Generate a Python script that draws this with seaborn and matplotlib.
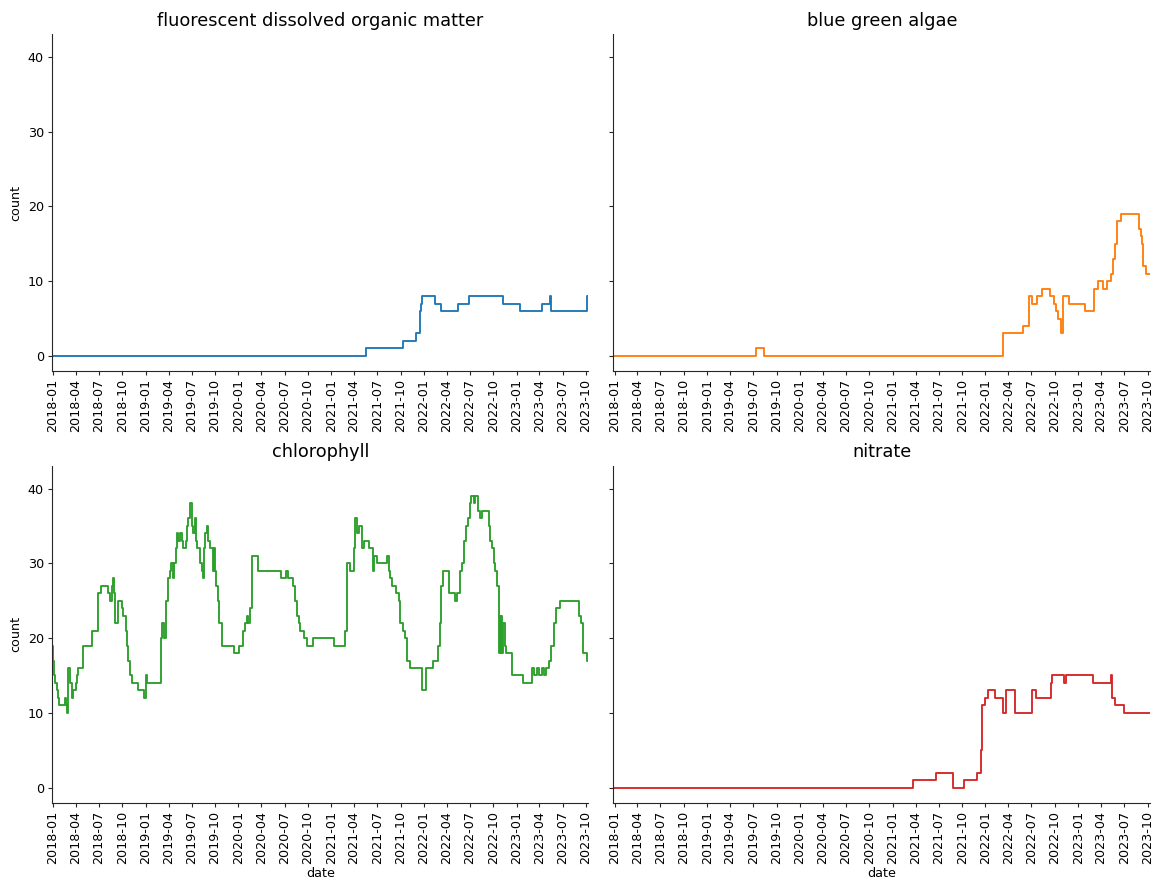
import matplotlib
matplotlib.use("Agg")
import matplotlib.pyplot as plt
import matplotlib.dates as mdates
import numpy as np
import pandas as pd
import seaborn as sns

sns.set_style("ticks")
plt.rcParams["font.family"] = ["DejaVu Sans"]

START = "2017-12-28"
END = "2023-10-11"

# Rolling counts per sensor: dates where the count changes, and the new count
fdom_dates = [START, "2021-05-19", "2021-10-10", "2021-12-02", "2021-12-18",
              "2021-12-22", "2021-12-26", "2022-02-12", "2022-03-09", "2022-05-14",
              "2022-06-29", "2022-11-09", "2023-01-13", "2023-04-11", "2023-05-14",
              "2023-05-18", "2023-10-06"]
fdom_counts = [0, 1, 2, 3, 6, 7, 8, 7, 6, 7, 8, 7, 6, 7, 8, 6, 8]

bga_dates = [START, "2019-07-14", "2019-08-14", "2022-03-11", "2022-05-28",
             "2022-06-20", "2022-07-04", "2022-07-24", "2022-08-12", "2022-09-13",
             "2022-09-26", "2022-10-06", "2022-10-15", "2022-10-26", "2022-11-01",
             "2022-11-25", "2023-01-26", "2023-03-03", "2023-03-22", "2023-04-10",
             "2023-04-24", "2023-05-10", "2023-05-19", "2023-05-27", "2023-06-01",
             "2023-06-18", "2023-08-30", "2023-09-04", "2023-09-08", "2023-09-13",
             "2023-09-24"]
bga_counts = [0, 1, 0, 3, 4, 8, 7, 8, 9, 8, 7, 6, 5, 3, 8, 7, 6, 9, 10, 9,
              10, 11, 13, 15, 18, 19, 17, 16, 15, 12, 11]

chl_dates = [START, "2018-01-02", "2018-01-05", "2018-01-10", "2018-01-17",
             "2018-01-22", "2018-01-26", "2018-02-17", "2018-02-21", "2018-02-24",
             "2018-03-02", "2018-03-09", "2018-03-15", "2018-03-22", "2018-04-02",
             "2018-04-07", "2018-04-11", "2018-05-01", "2018-06-05", "2018-06-29",
             "2018-07-08", "2018-08-07", "2018-08-14", "2018-08-20", "2018-08-24",
             "2018-08-30", "2018-09-03", "2018-09-13", "2018-09-29", "2018-10-05",
             "2018-10-15", "2018-10-21", "2018-10-25", "2018-11-01", "2018-11-07",
             "2018-12-03", "2018-12-27", "2019-01-03", "2019-01-08", "2019-03-01",
             "2019-03-08", "2019-03-15", "2019-03-22", "2019-03-29", "2019-04-05",
             "2019-04-10", "2019-04-18", "2019-04-24", "2019-05-01", "2019-05-04",
             "2019-05-10", "2019-05-17", "2019-05-23", "2019-05-30", "2019-06-09",
             "2019-06-12", "2019-06-18", "2019-06-25", "2019-07-02", "2019-07-08",
             "2019-07-15", "2019-07-19", "2019-07-24", "2019-08-03", "2019-08-10",
             "2019-08-14", "2019-08-19", "2019-08-23", "2019-09-01", "2019-09-05",
             "2019-09-12", "2019-09-22", "2019-09-28", "2019-10-02", "2019-10-06",
             "2019-10-11", "2019-10-15", "2019-10-28", "2019-12-13", "2020-01-02",
             "2020-01-21", "2020-01-28", "2020-02-04", "2020-02-10", "2020-02-17",
             "2020-02-23", "2020-03-20", "2020-06-16", "2020-07-07", "2020-07-13",
             "2020-08-03", "2020-08-12", "2020-08-19", "2020-08-25", "2020-09-01",
             "2020-09-14", "2020-09-27", "2020-10-21", "2021-01-10", "2021-02-25",
             "2021-03-04", "2021-03-14", "2021-03-30", "2021-04-05", "2021-04-12",
             "2021-04-19", "2021-05-02", "2021-05-08", "2021-05-28", "2021-06-16",
             "2021-06-19", "2021-06-30", "2021-08-08", "2021-08-15", "2021-08-21",
             "2021-08-28", "2021-09-14", "2021-09-23", "2021-09-30", "2021-10-10",
             "2021-10-20", "2021-10-26", "2021-11-06", "2021-12-24", "2022-01-10",
             "2022-02-06", "2022-02-24", "2022-03-04", "2022-03-09", "2022-03-17",
             "2022-04-08", "2022-05-05", "2022-05-11", "2022-05-22", "2022-05-31",
             "2022-06-06", "2022-06-17", "2022-06-22", "2022-06-30", "2022-07-05",
             "2022-07-16", "2022-07-22", "2022-07-31", "2022-08-11", "2022-08-18",
             "2022-09-14", "2022-09-19", "2022-09-26", "2022-10-03", "2022-10-09",
             "2022-10-16", "2022-10-22", "2022-10-25", "2022-10-28", "2022-10-30",
             "2022-11-01", "2022-11-03", "2022-11-08", "2022-11-18", "2022-11-22",
             "2022-12-14", "2023-01-26", "2023-03-03", "2023-03-09", "2023-03-22",
             "2023-03-29", "2023-04-11", "2023-04-20", "2023-04-27", "2023-05-07",
             "2023-05-17", "2023-05-27", "2023-06-05", "2023-06-22", "2023-09-03",
             "2023-09-12", "2023-09-20", "2023-10-06"]
chl_counts = [19, 17, 15, 14, 13, 12, 11, 12, 11, 10,
              16, 14, 12, 13, 14, 15, 16, 19, 21, 26,
              27, 26, 25, 27, 28, 26, 22, 25, 24, 23,
              21, 19, 17, 15, 14, 13, 12, 15, 14, 20,
              22, 20, 25, 28, 29, 30, 28, 30, 32, 34,
              33, 34, 33, 32, 33, 35, 36, 38, 35, 34,
              36, 33, 32, 30, 29, 28, 32, 34, 35, 33,
              32, 29, 32, 29, 27, 25, 22, 19, 18, 19,
              21, 22, 23, 22, 24, 31, 29, 28, 29, 28,
              27, 25, 23, 22, 21, 20, 19, 20, 19, 21,
              30, 29, 32, 36, 34, 35, 32, 33, 32, 29,
              31, 30, 31, 29, 28, 27, 26, 25, 22, 21,
              20, 17, 16, 13, 16, 17, 19, 22, 27, 29,
              26, 25, 26, 29, 30, 33, 35, 36, 38, 39,
              38, 39, 37, 36, 37, 35, 33, 32, 30, 29,
              27, 23, 18, 23, 18, 23, 18, 22, 19, 18,
              15, 14, 16, 15, 16, 15, 16, 15, 16, 17,
              19, 22, 24, 25, 23, 22, 18, 17]

nitrate_dates = [START, "2021-03-21", "2021-06-20", "2021-08-25", "2021-10-09",
                 "2021-11-29", "2021-12-14", "2021-12-20", "2021-12-29", "2022-01-11",
                 "2022-02-06", "2022-03-09", "2022-03-22", "2022-04-26", "2022-07-04",
                 "2022-07-20", "2022-09-14", "2022-09-21", "2022-11-08", "2022-11-14",
                 "2023-03-02", "2023-05-10", "2023-05-14", "2023-05-26", "2023-06-30"]
nitrate_counts = [0, 1, 2, 0, 1, 2, 5, 11, 12, 13, 12, 10, 13, 10, 13, 12, 14,
                  15, 14, 15, 14, 15, 12, 11, 10]

panels = ["fluorescent dissolved organic matter", "blue green algae",
          "chlorophyll", "nitrate"]
series = [(fdom_dates, fdom_counts), (bga_dates, bga_counts),
          (chl_dates, chl_counts), (nitrate_dates, nitrate_counts)]
colors = sns.color_palette("tab10", 4)

frames = []
for name, (d, c) in zip(panels, series):
    # carry the last count through to the end of the record
    dd = pd.to_datetime(list(d) + [END])
    cc = list(c) + [c[-1]]
    frames.append(pd.DataFrame({"date": dd, "count": cc, "variable": name}))
data = pd.concat(frames, ignore_index=True)

fig, axes = plt.subplots(2, 2, figsize=(11.52, 8.8), dpi=100, sharey=True)
fig.subplots_adjust(left=0.0451, right=0.9983, top=0.9614, bottom=0.0875,
                    wspace=0.0466, hspace=0.28)

for ax, name, col in zip(axes.flat, panels, colors):
    sub = data[data["variable"] == name]
    sns.lineplot(data=sub, x="date", y="count", ax=ax, color=col,
                 estimator=None, drawstyle="steps-post", linewidth=1.35)
    ax.set_title(name, fontsize=12.8, color="black")
    ax.set_xlim(pd.Timestamp(START), pd.Timestamp(END))
    ax.xaxis.set_major_locator(mdates.MonthLocator(bymonth=[1, 4, 7, 10]))
    ax.xaxis.set_major_formatter(mdates.DateFormatter("%Y-%m"))
    ax.tick_params(axis="x", labelrotation=90, labelsize=9.2, labelbottom=True,
                   labelcolor="black", length=3.2, pad=2.5)
    ax.tick_params(axis="y", labelsize=9.2, labelcolor="black", length=3.2, pad=2.5)
    sns.despine(ax=ax)

axes[0, 0].set_ylim(-2.05, 43.05)
axes[0, 0].set_yticks([0, 10, 20, 30, 40])
for ax in axes[0]:
    ax.set_xlabel("")
for ax in axes[1]:
    ax.set_xlabel("date", fontsize=9.2, color="black", labelpad=2)
for ax in axes[:, 1]:
    ax.set_ylabel("")
for ax in axes[:, 0]:
    ax.set_ylabel("count", fontsize=9.2, color="black", labelpad=4)

fig.savefig("out.png", dpi=100)
